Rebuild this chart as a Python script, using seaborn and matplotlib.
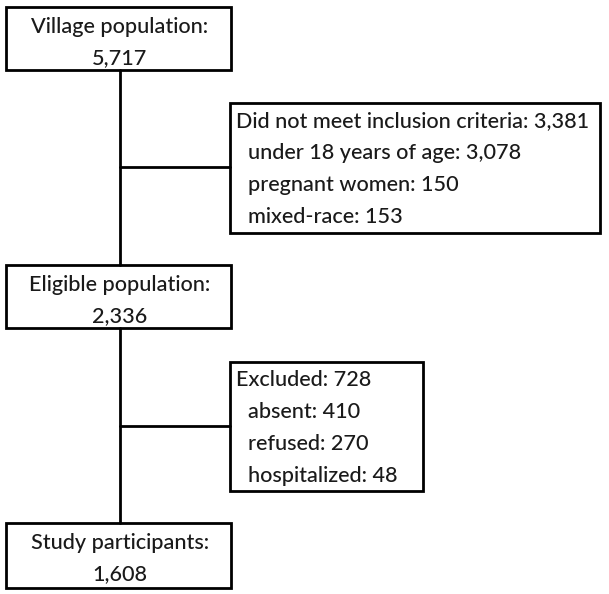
import matplotlib
matplotlib.use("Agg")
import matplotlib.pyplot as plt
from matplotlib.patches import Rectangle
import seaborn as sns

# flow stages (main column)
stages = ["Village population", "Eligible population", "Study participants"]
stage_counts = [5717, 2336, 1608]

# side boxes: exclusions between stages
excl_titles = ["Did not meet inclusion criteria", "Excluded"]
excl_totals = [3381, 728]
excl_reasons = [
    ["under 18 years of age", "pregnant women", "mixed-race"],
    ["absent", "refused", "hospitalized"],
]
excl_counts = [
    [3078, 150, 153],
    [410, 270, 48],
]


def main():
    sns.set_theme(style="white")
    plt.rcParams["font.family"] = ["Lato", "DejaVu Sans"]

    W, H = 609, 594
    fig = plt.figure(figsize=(W / 100, H / 100), dpi=100)
    ax = fig.add_axes([0, 0, 1, 1])
    ax.set_xlim(0, W)
    ax.set_ylim(H, 0)
    ax.axis("off")

    fs = 15.6
    lw_box = 2.0
    spine_x = 120

    # main boxes: (top, bottom), x from 6 to 231
    main_boxes = [(7, 70), (265, 328), (523, 588)]
    for (top, bot), name, n in zip(main_boxes, stages, stage_counts):
        ax.add_patch(Rectangle((6, top), 225, bot - top, fill=False,
                               edgecolor="black", lw=lw_box, zorder=3))
        ax.text(spine_x, top + 26, f"{name}:", ha="center", va="baseline",
                fontsize=fs, color="#1a1a1a", fontweight="medium")
        ax.text(spine_x, top + 57, f"{n:,}", ha="center", va="baseline",
                fontsize=fs, color="#1a1a1a", fontweight="medium")

    # vertical connectors between main boxes
    for (t0, b0), (t1, b1) in zip(main_boxes[:-1], main_boxes[1:]):
        sns.lineplot(x=[spine_x, spine_x], y=[b0, t1], ax=ax,
                     color="black", lw=2.0, estimator=None, sort=False)

    # side boxes: (left, top, right, bottom, branch y)
    side_boxes = [(230, 103, 600, 233, 167), (230, 362, 423, 491, 426)]
    for (l, t, r, b, by), title, tot, reasons, counts in zip(
            side_boxes, excl_titles, excl_totals, excl_reasons, excl_counts):
        ax.add_patch(Rectangle((l, t), r - l, b - t, fill=False,
                               edgecolor="black", lw=lw_box, zorder=3))
        sns.lineplot(x=[spine_x, l], y=[by, by], ax=ax,
                     color="black", lw=2.0, estimator=None, sort=False)
        ax.text(l + 6, t + 24, f"{title}: {tot:,}", ha="left",
                va="baseline", fontsize=fs, color="#1a1a1a",
                fontweight="medium")
        for i, (reason, c) in enumerate(zip(reasons, counts)):
            ax.text(l + 18, t + 56 + i * 32, f"{reason}: {c:,}", ha="left",
                    va="baseline", fontsize=fs, color="#1a1a1a",
                    fontweight="medium")

    fig.savefig("out.png", dpi=100)


if __name__ == "__main__":
    main()
